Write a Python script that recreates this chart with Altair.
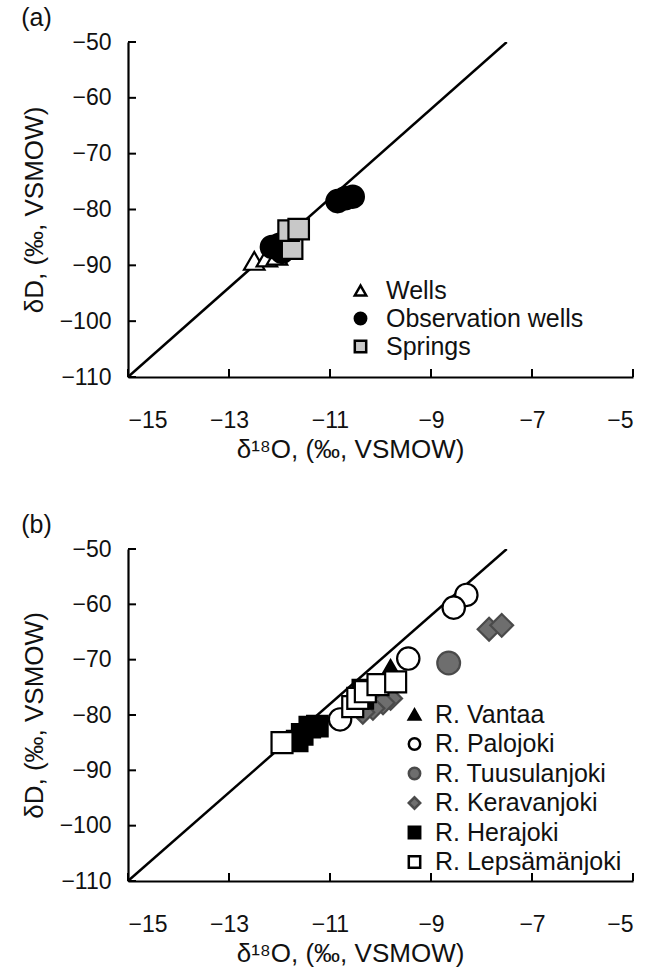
import altair as alt
import pandas as pd
import json

FONT = "Liberation Sans"

# ---------------- data: panel (a) ----------------
a_names = ["Wells", "Observation wells", "Springs"]
wells_x = [-12.5, -12.25, -12.05]
wells_y = [-89.2, -88.6, -88.3]
obs_x = [-10.85, -10.7, -10.55, -12.15, -12.0, -11.95]
obs_y = [-78.5, -78.0, -77.7, -86.7, -86.3, -87.6]
spr_x = [-11.75, -11.82, -11.62]
spr_y = [-87.0, -83.8, -83.5]

# ---------------- data: panel (b) ----------------
b_names = ["R. Vantaa", "R. Palojoki", "R. Tuusulanjoki", "R. Keravanjoki",
           "R. Herajoki", "R. Lepsämänjoki"]
van_x = [-9.8, -9.9, -10.0, -10.3]
van_y = [-71.5, -75.0, -77.0, -78.5]
pal_x = [-8.3, -8.55, -9.45, -10.8]
pal_y = [-58.3, -60.6, -69.8, -80.8]
tuu_x = [-8.65]
tuu_y = [-70.6]
ker_x = [-7.85, -7.6, -9.8, -9.95, -10.15, -10.35]
ker_y = [-64.5, -63.8, -77.0, -77.8, -78.8, -79.5]
her_x = [-11.65, -11.55, -11.4, -11.25, -10.35, -10.35]
her_y = [-84.7, -83.5, -82.2, -82.0, -75.5, -77.0]
lep_x = [-11.95, -10.55, -10.45, -10.3, -10.05, -9.7]
lep_y = [-85.0, -78.5, -77.0, -75.8, -74.5, -74.0]

# meteoric water line  dD = 8 * d18O + 10
mwl_x = [-15.0, -7.5]
mwl_slope, mwl_icpt = 8.0, 10.0

x_ticks = [-15, -13, -11, -9, -7, -5]
y_ticks = [-110, -100, -90, -80, -70, -60, -50]


def frame(groups):
    rows = []
    for name, xs, ys in groups:
        for x, y in zip(xs, ys):
            rows.append({"site": name, "x": x, "y": y})
    return pd.DataFrame(rows)


df_a = frame([("Wells", wells_x, wells_y),
              ("Observation wells", obs_x, obs_y),
              ("Springs", spr_x, spr_y)])
df_b = frame([("R. Vantaa", van_x, van_y), ("R. Palojoki", pal_x, pal_y),
              ("R. Tuusulanjoki", tuu_x, tuu_y), ("R. Keravanjoki", ker_x, ker_y),
              ("R. Herajoki", her_x, her_y), ("R. Lepsämänjoki", lep_x, lep_y)])
df_line = pd.DataFrame({"x": mwl_x, "y": [mwl_slope * v + mwl_icpt for v in mwl_x]})
df_xt = pd.DataFrame({"v": x_ticks})
df_yt = pd.DataFrame({"v": y_ticks})

XT = "δ¹⁸O, (‰, VSMOW)"
YT = "δD, (‰, VSMOW)"


def panel(df, names, shapes, fills, strokes, sizes, W, H, lx, ly, rowpad, loff, label):
    xs = alt.Scale(domain=[-15, -5], nice=False, zero=False)
    ys = alt.Scale(domain=[-110, -50], nice=False, zero=False)
    xax = alt.Axis(values=x_ticks, title=XT, labelPadding=32, titlePadding=4, titleX=222)
    yax = alt.Axis(values=y_ticks, title=YT, labelPadding=17, titlePadding=12)

    leg = alt.Legend(title=None, orient="none", legendX=lx, legendY=ly,
                     padding=0, rowPadding=rowpad, labelOffset=loff,
                     symbolSize=130, symbolStrokeWidth=2.5,
                     labelFontSize=25, labelFont=FONT,
                     labelColor="#111", labelLimit=400)

    size_expr = "{}[indexof({}, datum.site)]".format(json.dumps(sizes),
                                                      json.dumps(names, ensure_ascii=False))

    line = alt.Chart(df_line).mark_line(color="black", strokeWidth=2.5, clip=True).encode(
        x=alt.X("x:Q", scale=xs, axis=xax),
        y=alt.Y("y:Q", scale=ys, axis=yax),
    )
    pts = alt.Chart(df).transform_calculate(sz=size_expr).mark_point(
        filled=True, opacity=1, strokeWidth=2.2).encode(
        x=alt.X("x:Q", scale=xs),
        y=alt.Y("y:Q", scale=ys),
        shape=alt.Shape("site:N", sort=names,
                        scale=alt.Scale(domain=names, range=shapes), legend=leg),
        fill=alt.Fill("site:N", sort=names,
                      scale=alt.Scale(domain=names, range=fills), legend=leg),
        stroke=alt.Stroke("site:N", sort=names,
                          scale=alt.Scale(domain=names, range=strokes), legend=leg),
        size=alt.Size("sz:Q", scale=None),
    )
    xt = alt.Chart(df_xt).mark_rule(color="black", strokeWidth=2).encode(
        x=alt.X("v:Q", scale=xs), y=alt.value(H), y2=alt.value(H - 8))
    yt = alt.Chart(df_yt).mark_rule(color="black", strokeWidth=2).encode(
        y=alt.Y("v:Q", scale=ys), x=alt.value(0), x2=alt.value(8))
    return alt.layer(line, xt, yt, pts).properties(
        width=W, height=H,
        title=alt.TitleParams(label, anchor="start", frame="bounds", fontSize=25,
                              fontWeight="normal", font=FONT, color="#111", offset=0),
    )


pa = panel(df_a, a_names,
           ["triangle-up", "circle", "square"],
           ["white", "black", "#c8c8c8"],
           ["black", "black", "black"],
           [420, 500, 420],
           505, 335, 220, 236, 2, 13, "(a)")
pb = panel(df_b, b_names,
           ["triangle-up", "circle", "circle", "diamond", "square", "square"],
           ["black", "white", "#6e6e6e", "#6e6e6e", "black", "white"],
           ["black", "black", "#4a4a4a", "#4a4a4a", "black", "black"],
           [330, 500, 520, 520, 420, 440],
           505, 332, 274, 153, 3.5, 8, "(b)")

chart = alt.vconcat(pa, pb, spacing=51).resolve_scale(
    x="independent", y="independent", shape="independent", fill="independent",
    stroke="independent"
).properties(
    padding={"left": 21, "top": 6, "right": 2, "bottom": 3}
).configure_view(stroke=None).configure_axis(
    domainColor="black", domainWidth=2.2, grid=False, ticks=False,
    labelFont=FONT, titleFont=FONT, labelFontSize=23, titleFontSize=26,
    titleFontWeight="normal", labelColor="#111", titleColor="#111",
)

chart.save("out.html", embed_options={"renderer": "svg", "actions": False})
